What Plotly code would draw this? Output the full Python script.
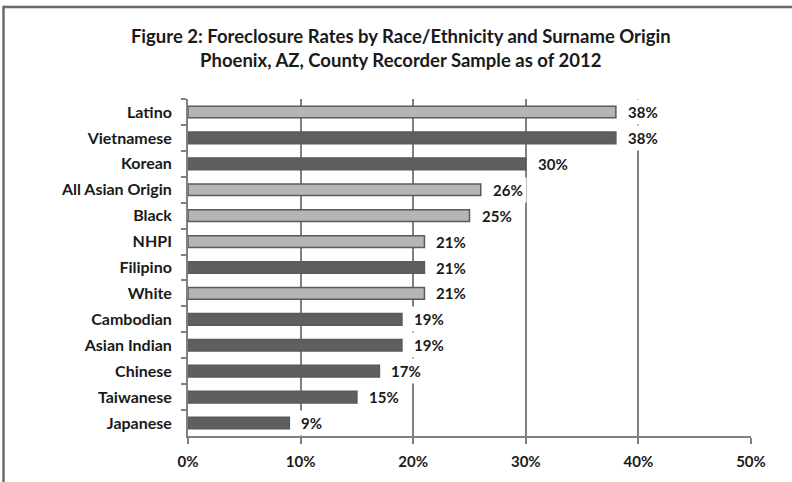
import plotly.graph_objects as go

categories = ["Latino", "Vietnamese", "Korean", "All Asian Origin", "Black", "NHPI",
              "Filipino", "White", "Cambodian", "Asian Indian", "Chinese", "Taiwanese", "Japanese"]
values = [38, 38, 30, 26, 25, 21, 21, 21, 19, 19, 17, 15, 9]
is_light = [True, False, False, True, True, True, False, True, False, False, False, False, False]
x_ticks = [0, 10, 20, 30, 40, 50]
x_tick_labels = ["0%", "10%", "20%", "30%", "40%", "50%"]

LIGHT = "#b5b5b5"
DARK = "#5f5f5f"
EDGE = "#5a5a5a"
GRID = "#808080"
TXT = "#1a1a1a"
FONT = "Lato"

colors = [LIGHT if l else DARK for l in is_light]

fig = go.Figure()
fig.add_trace(go.Bar(
    y=categories, x=values, orientation="h",
    marker=dict(color=colors, line=dict(color=EDGE, width=1.5)),
    width=0.45, hoverinfo="skip", showlegend=False,
))

annotations = []
for c, v in zip(categories, values):
    annotations.append(dict(
        x=v, y=c, xref="x", yref="y", text=f"{v}%", showarrow=False,
        xanchor="left", yanchor="middle", xshift=8,
        bgcolor="white", borderpad=3,
        font=dict(family=FONT, size=15, color=TXT, weight="bold"),
    ))

# outer frame (top and left edges only, as in the reference)
PL, PT, PW, PH = 188, 99, 563, 339
def px_x(p):
    return (p - PL) / PW
def px_y(p):
    return (PT + PH - p) / PH

fig.update_layout(
    width=792, height=482,
    margin=dict(l=188, r=41, t=99, b=44),
    paper_bgcolor="white", plot_bgcolor="white",
    title=dict(
        text="Figure 2: Foreclosure Rates by Race/Ethnicity and Surname Origin<br>Phoenix, AZ, County Recorder Sample as of 2012",
        x=0.506, xanchor="center", y=1 - 43 / 482, yanchor="top",
        font=dict(family=FONT, size=18.5, color=TXT, weight="bold"),
    ),
    annotations=annotations,
    xaxis=dict(
        range=[0, 50], tickvals=x_ticks, ticktext=x_tick_labels,
        showgrid=True, gridcolor=GRID, gridwidth=1.8,
        showline=True, linecolor=GRID, linewidth=1.8,
        ticks="outside", ticklen=6, tickcolor=GRID, tickwidth=1.8,
        tickfont=dict(family=FONT, size=15, color=TXT, weight="bold"),
        ticklabelstandoff=5, zeroline=False, fixedrange=True,
    ),
    yaxis=dict(
        categoryorder="array", categoryarray=categories, autorange="reversed",
        showgrid=False, showline=True, linecolor=GRID, linewidth=1.8,
        ticks="outside", ticklen=5, tickcolor=GRID, tickwidth=1.8, tickson="boundaries",
        tickfont=dict(family=FONT, size=16, color=TXT, weight="bold"),
        ticklabelstandoff=11, fixedrange=True,
    ),
    shapes=[
        dict(type="line", xref="paper", yref="paper", layer="above",
             x0=px_x(3.5), x1=px_x(795), y0=px_y(6.5), y1=px_y(6.5),
             line=dict(color="#6a6a6a", width=2.5)),
        dict(type="line", xref="paper", yref="paper", layer="above",
             x0=px_x(3.5), x1=px_x(3.5), y0=px_y(5.3), y1=px_y(485),
             line=dict(color="#6a6a6a", width=2.5)),
    ],
)

fig.write_html("out.html")
